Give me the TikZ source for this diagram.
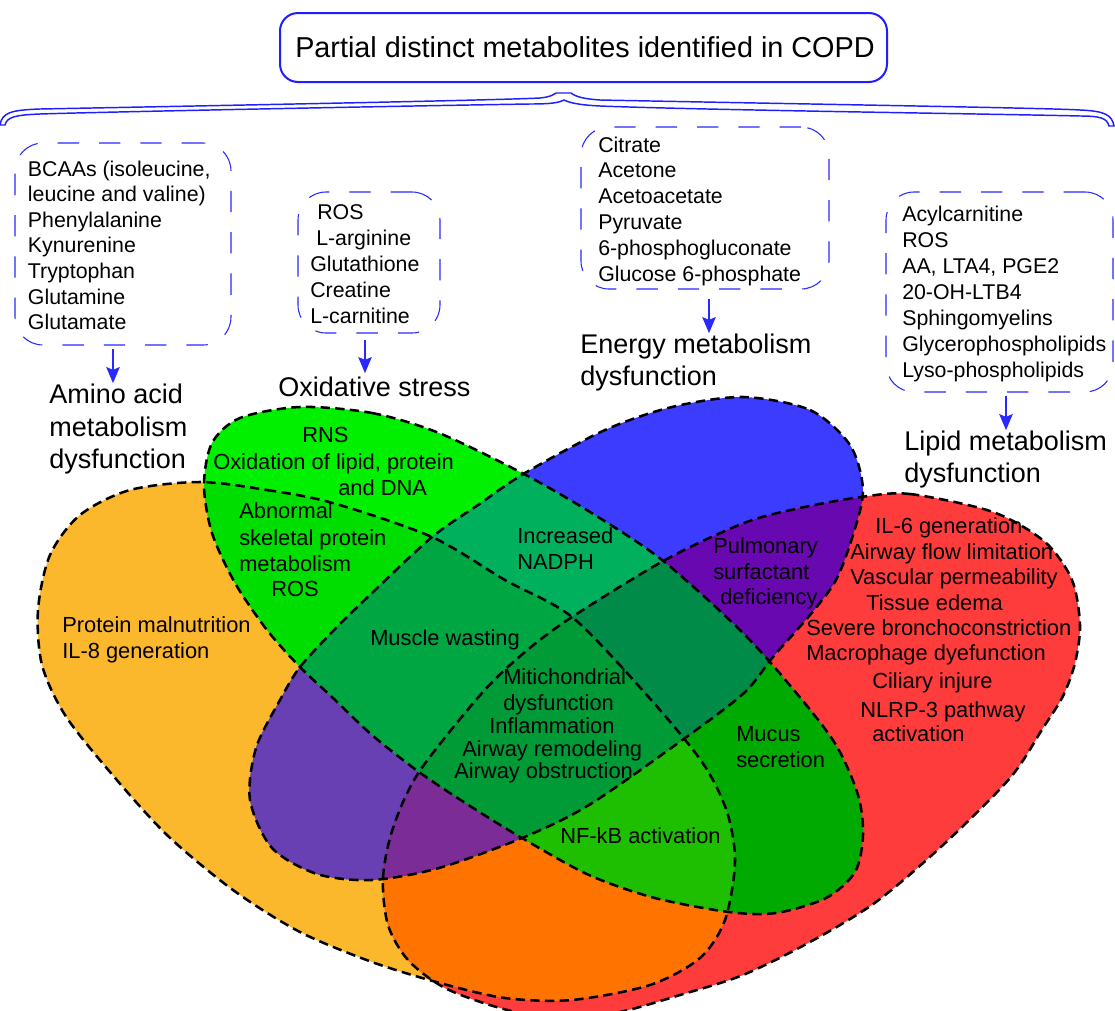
\documentclass[tikz,border=0pt]{standalone}
\usepackage{fontspec}
\setmainfont{Liberation Sans}
\usetikzlibrary{arrows.meta}
\newdimen\px \px=0.75pt
\definecolor{tblue}{RGB}{30,30,255}
\definecolor{bblue}{RGB}{40,40,255}
\definecolor{cY}{RGB}{252,184,45}
\definecolor{cG}{RGB}{0,240,0}
\definecolor{cB}{RGB}{60,60,255}
\definecolor{cR}{RGB}{255,60,60}
\definecolor{cYG}{RGB}{0,222,0}
\definecolor{cYB}{RGB}{104,64,180}
\definecolor{cYR}{RGB}{255,116,0}
\definecolor{cGB}{RGB}{0,176,92}
\definecolor{cGR}{RGB}{0,170,0}
\definecolor{cBR}{RGB}{104,8,176}
\definecolor{cYGB}{RGB}{0,166,66}
\definecolor{cYGR}{RGB}{30,190,0}
\definecolor{cYBR}{RGB}{124,44,150}
\definecolor{cGBR}{RGB}{0,140,72}
\definecolor{cYGBR}{RGB}{0,154,54}
\begin{document}
\begin{tikzpicture}[x=0.75pt,y=-0.75pt,
  vtxt/.style={anchor=base west,inner sep=0pt,font=\fontsize{16.4pt}{19pt}\selectfont},
  btxt/.style={anchor=base west,inner sep=0pt,font=\fontsize{16pt}{19pt}\selectfont},
  ltxt/.style={anchor=base west,inner sep=0pt,font=\fontsize{20.25pt}{24pt}\selectfont},
  mbox/.style={draw=bblue,line width=0.8pt,dash pattern=on 16pt off 15pt,rounded corners=21pt,inner sep=0pt},
  arr/.style={draw=bblue,line width=1.6pt,-{Stealth[length=12pt,width=10pt,inset=2pt]}},
  venn/.style={draw=black,line width=1.9pt,dash pattern=on 7pt off 4pt}]
\useasboundingbox (0,0) rectangle (1115,1011);

% ---------------- Venn shapes ----------------
\def\shY{plot[smooth cycle] coordinates {(200,482) (267,490) (333,503) (432,537) (505,580) (572,617) (645,693) (702,762) (727,812) (735,862) (725,920) (700,958) (650,985) (572,1000) (505,998) (440,983) (372,962) (300,932) (233,890) (167,835) (110,772) (65,715) (42,665) (38,610) (50,555) (80,515) (130,490)}}
\def\shG{plot[smooth cycle] coordinates {(300,407) (372,413) (439,433) (522,473) (590,512) (662,560) (743,633) (798,695) (836,745) (858,795) (863,835) (855,872) (826,898) (776,913) (729,912) (655,898) (589,875) (522,838) (470,806) (419,772) (372,735) (333,698) (300,667) (267,630) (235,583) (212,533) (204,485) (212,443) (240,418)}}
\def\shB{plot[smooth cycle] coordinates {(743,397) (810,410) (850,445) (863,490) (853,535) (836,580) (810,615) (773,657) (744,693) (685,738) (589,805) (522,838) (439,868) (372,880) (317,874) (272,848) (250,800) (256,748) (280,700) (300,667) (336,628) (372,593) (432,537) (478,505) (525,473) (605,430) (672,407)}}
\def\shR{plot[smooth cycle] coordinates {(861,497) (910,494) (993,512) (1045,542) (1072,580) (1080,625) (1075,663) (1063,696) (1043,728) (1010,778) (943,845) (876,902) (810,942) (743,975) (680,995) (620,1012) (560,1020) (500,1008) (445,988) (408,960) (388,925) (383,878) (393,828) (419,772) (482,693) (525,652) (572,617) (665,560) (744,523) (800,508)}}

\begin{scope}
\clip (0,0) rectangle (1115,1011);
\fill[cY] \shY; \fill[cG] \shG; \fill[cB] \shB; \fill[cR] \shR;
\begin{scope}\clip \shY; \fill[cYG] \shG; \end{scope}
\begin{scope}\clip \shY; \fill[cYB] \shB; \end{scope}
\begin{scope}\clip \shY; \fill[cYR] \shR; \end{scope}
\begin{scope}\clip \shG; \fill[cGB] \shB; \end{scope}
\begin{scope}\clip \shG; \fill[cGR] \shR; \end{scope}
\begin{scope}\clip \shB; \fill[cBR] \shR; \end{scope}
\begin{scope}\clip \shY; \clip \shG; \fill[cYGB] \shB; \end{scope}
\begin{scope}\clip \shY; \clip \shG; \fill[cYGR] \shR; \end{scope}
\begin{scope}\clip \shY; \clip \shB; \fill[cYBR] \shR; \end{scope}
\begin{scope}\clip \shG; \clip \shB; \fill[cGBR] \shR; \end{scope}
\begin{scope}\clip \shY; \clip \shG; \clip \shB; \fill[cYGBR] \shR; \end{scope}
\draw[venn] \shY; \draw[venn] \shG; \draw[venn] \shB; \draw[venn] \shR;
\end{scope}

% ---------------- title and brace ----------------
\node[draw=tblue,line width=1.5pt,rounded corners=13.5pt,minimum width=607\px,minimum height=69\px,inner sep=0pt] (title) at (583.5,47.5) {};
\node[anchor=base,inner sep=0pt,font=\fontsize{21.6pt}{26pt}\selectfont] (titletext) at (585,57) {Partial distinct metabolites identified in COPD};

\draw[tblue,line width=1.1pt,fill=white]
  (0,125) .. controls (2,113) and (10,110) .. (40,109)
  .. controls (300,104) and (500,100) .. (540,98)
  .. controls (550,97) and (553,95) .. (556,93) -- (571,93)
  .. controls (576,97) and (585,99) .. (600,100)
  .. controls (800,104) and (1050,108) .. (1080,110)
  .. controls (1105,111) and (1112,115) .. (1114,126)
  -- (1109,126) .. controls (1107,118) and (1100,116) .. (1080,116)
  .. controls (1000,114) and (700,110) .. (600,106)
  .. controls (580,105) and (570,103) .. (564,100)
  .. controls (558,103) and (550,104) .. (530,104)
  .. controls (400,106) and (100,112) .. (40,114)
  .. controls (15,115) and (7,117) .. (5,125) -- cycle;

% ---------------- metabolite boxes ----------------
\node[mbox,minimum width=216\px,minimum height=202\px] (box1) at (123,244) {};
\node[mbox,minimum width=142\px,minimum height=141\px] (box2) at (369,262.5) {};
\node[mbox,minimum width=248\px,minimum height=162\px] (box3) at (705,208) {};
\node[mbox,minimum width=227\px,minimum height=200\px] (box4) at (999.5,292) {};

\foreach \t [count=\i] in {{BCAAs (isoleucine,},{leucine and valine)},Phenylalanine,Kynurenine,Tryptophan,Glutamine,Glutamate}
  \node[btxt] (bA\i) at (27.7,{176+25.65*(\i-1)}) {\t};
\foreach \x/\y/\t [count=\i] in {317/219/ROS,316/245/L-arginine,310/271/Glutathione,310/297/Creatine,310/323/L-carnitine}
  \node[btxt] (bB\i) at (\x,\y) {\t};
\foreach \t [count=\i] in {Citrate,Acetone,Acetoacetate,Pyruvate,6-phosphogluconate,Glucose 6-phosphate}
  \node[btxt] (bC\i) at (598,{152+25.8*(\i-1)}) {\t};
\foreach \t [count=\i] in {Acylcarnitine,ROS,{AA, LTA4, PGE2},20-OH-LTB4,Sphingomyelins,Glycerophospholipids,Lyso-phospholipids}
  \node[btxt] (bD\i) at (902,{221+26*(\i-1)}) {\t};

% ---------------- category labels ----------------
\node[ltxt] (am1) at (49,403) {Amino acid};
\node[ltxt] (am2) at (49,436) {metabolism};
\node[ltxt] (am3) at (49,468) {dysfunction};
\node[ltxt] (ox) at (278,396) {Oxidative stress};
\node[ltxt] (en1) at (580,353) {Energy metabolism};
\node[ltxt] (en2) at (580,385) {dysfunction};
\node[ltxt] (li1) at (904,450) {Lipid metabolism};
\node[ltxt] (li2) at (904,482) {dysfunction};

\coordinate (ax1) at (113,0);
\coordinate (ax2) at (365,0);
\coordinate (ax3) at (709,0);
\coordinate (ax4) at (1006,0);
\draw[arr,shorten <=3\px] (box1.south -| ax1) -- (am1.north -| ax1);
\draw[arr,shorten <=6\px,shorten >=3\px] (box2.south -| ax2) -- (ox.north -| ax2);
\draw[arr,shorten <=9\px] (box3.south -| ax3) -- (en1.north -| ax3);
\draw[arr,shorten <=3\px] (box4.south -| ax4) -- (li1.north -| ax4);

% ---------------- Venn texts ----------------
\foreach \x/\y/\t [count=\i] in {
  302/442/RNS, 213/469/{Oxidation of lipid, protein}, 338/495/and DNA,
  239/518/Abnormal, 239/545/skeletal protein, 239/571/metabolism, 271/596/ROS,
  62/632/Protein malnutrition, 62/658/IL-8 generation,
  370/645/Muscle wasting,
  517/543/Increased, 517/569/NADPH,
  713/553/Pulmonary, 713/579/surfactant, 720/604/deficiency,
  875/533/IL-6 generation, 850/559/Airway flow limitation, 850/584/Vascular permeability,
  866/610/Tissue edema, 806/635/Severe bronchoconstriction, 806/660/Macrophage dyefunction,
  872/688/Ciliary injure, 860/717/NLRP-3 pathway, 872/741/activation,
  736/741/Mucus, 736/767/secretion,
  503/684/Mitichondrial, 503/710/dysfunction, 489/733/Inflammation,
  462/756/Airway remodeling, 454/778/Airway obstruction,
  560/843/NF-kB activation}
  \node[vtxt] (v\i) at (\x,\y) {\t};
\end{tikzpicture}
\end{document}
